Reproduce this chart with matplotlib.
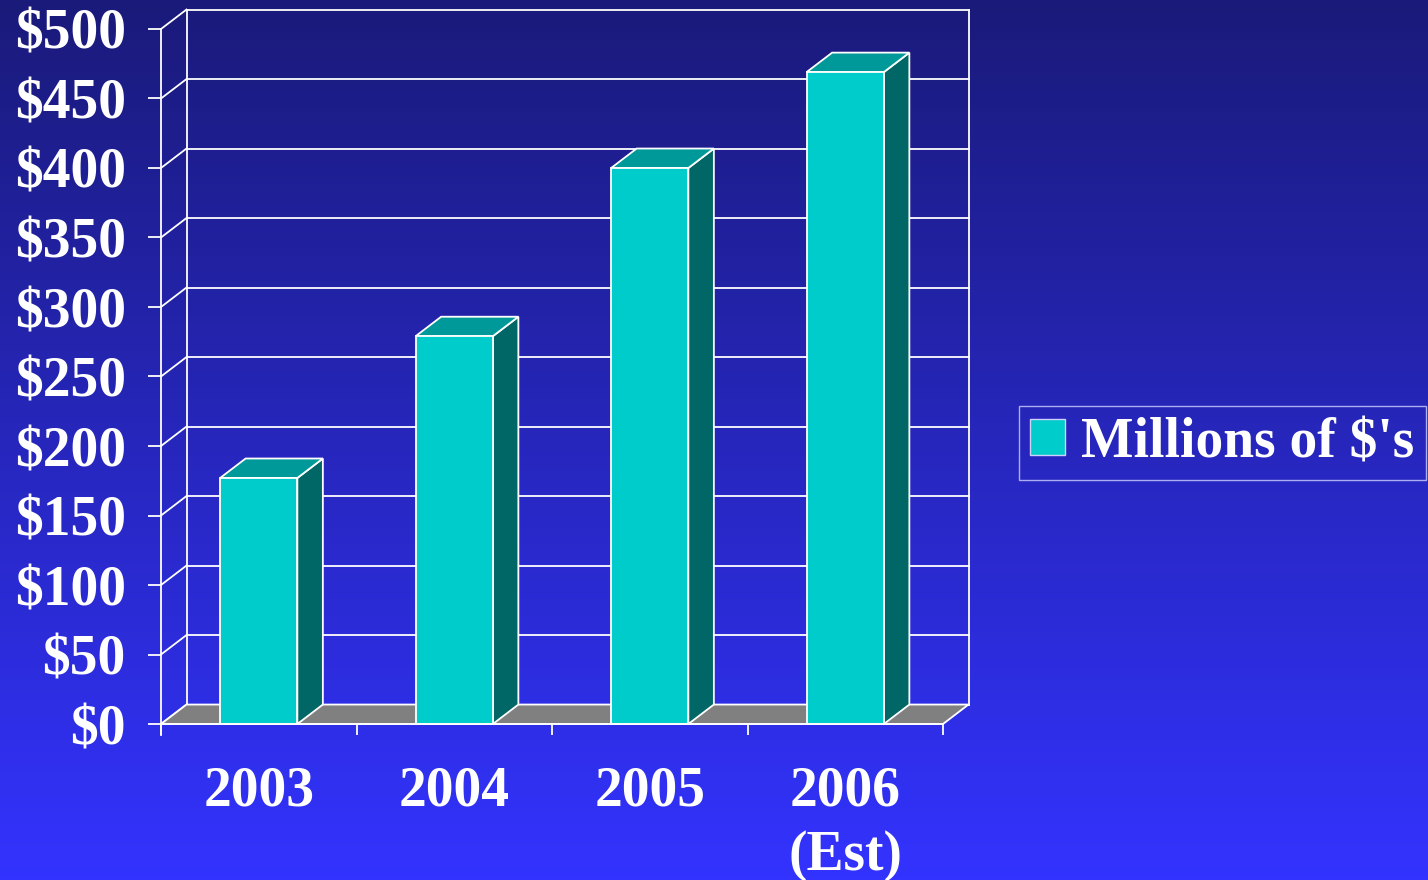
import numpy as np
import matplotlib
matplotlib.use('Agg')
import matplotlib.pyplot as plt
from matplotlib.patches import Polygon, Patch

# data
years = ['2003', '2004', '2005', '2006\n(Est)']
values = [177, 279, 400, 469]
y_ticks = [0, 50, 100, 150, 200, 250, 300, 350, 400, 450, 500]
y_labels = ['$' + str(v) for v in y_ticks]
legend_label = "Millions of $'s"

front_col = '#00cccc'
top_col = '#009999'
side_col = '#006666'
floor_col = '#808080'
line_col = 'white'

plt.rcParams['font.family'] = ['Liberation Serif', 'DejaVu Serif']
plt.rcParams['font.weight'] = 'bold'

fig = plt.figure(figsize=(14.28, 8.8), dpi=100)

# gradient background
bg = fig.add_axes([0, 0, 1, 1], zorder=-10)
top_rgb = np.array([26, 26, 122]) / 255
bot_rgb = np.array([51, 51, 255]) / 255
t = np.linspace(0, 1, 256)[:, None]
grad = top_rgb * (1 - t) + bot_rgb * t
bg.imshow(grad[:, None, :], aspect='auto', extent=[0, 1, 0, 1])
bg.axis('off')

# front plane of the 3d box
W, H = 1428, 880
ax = fig.add_axes([161 / W, 1 - 724 / H, (943 - 161) / W, (724 - 29) / H])
ax.patch.set_alpha(0)
ax.set_xlim(-0.5, 3.5)
ax.set_ylim(0, 500)

dx = 25.5 / 195.5   # depth offset in category units
dy = 14.0           # depth offset in value units
lw = 1.3
n = len(years)
x0, x1 = -0.5, n - 0.5

# back wall and gridlines
for v in y_ticks:
    ax.plot([x0 + dx, x1 + dx], [v + dy, v + dy], color=line_col, lw=lw, clip_on=False, zorder=1)
    ax.plot([x0, x0 + dx], [v, v + dy], color=line_col, lw=lw, clip_on=False, zorder=1)
ax.plot([x0 + dx, x0 + dx], [dy, 500 + dy], color=line_col, lw=lw, clip_on=False, zorder=1)
ax.plot([x1 + dx, x1 + dx], [dy, 500 + dy], color=line_col, lw=lw, clip_on=False, zorder=1)

# floor
floor = Polygon([[x0, 0], [x1, 0], [x1 + dx, dy], [x0 + dx, dy]], closed=True,
                facecolor=floor_col, edgecolor=line_col, lw=lw, clip_on=False, zorder=2)
ax.add_patch(floor)

# bars
bw = 0.395
for i, v in enumerate(values):
    l, r = i - bw / 2, i + bw / 2
    side = Polygon([[r, 0], [r + dx, dy], [r + dx, v + dy], [r, v]], closed=True,
                   facecolor=side_col, edgecolor=line_col, lw=lw, clip_on=False, zorder=3)
    top = Polygon([[l, v], [r, v], [r + dx, v + dy], [l + dx, v + dy]], closed=True,
                  facecolor=top_col, edgecolor=line_col, lw=lw, clip_on=False, zorder=3)
    ax.add_patch(side)
    ax.add_patch(top)
    ax.bar(i, v, width=bw, color=front_col, edgecolor=line_col, lw=lw, zorder=4, clip_on=False)

# axes styling
for s in ['top', 'right']:
    ax.spines[s].set_visible(False)
ax.spines['left'].set_color(line_col)
ax.spines['bottom'].set_color(line_col)
ax.spines['left'].set_linewidth(lw)
ax.spines['bottom'].set_linewidth(lw)
ax.spines['left'].set_zorder(5)
ax.spines['bottom'].set_zorder(5)
ax.spines['left'].set_bounds(-8, 500)

ax.set_yticks(y_ticks)
ax.set_yticklabels(y_labels)
ax.tick_params(axis='y', length=9.4, width=lw, color=line_col, pad=16,
               labelsize=40, labelcolor='white')

ax.set_xticks(range(n))
ax.set_xticklabels(years, linespacing=1.3)
ax.set_xticks([x0 + k for k in range(n + 1)], minor=True)
ax.tick_params(axis='x', which='major', length=0, pad=30, labelsize=40, labelcolor='white')
ax.tick_params(axis='x', which='minor', length=8, width=lw, color=line_col)

# legend
handle = Patch(facecolor=front_col, edgecolor='#d0d0ff', lw=1)
leg = fig.legend([handle], [legend_label], loc='center left',
                 bbox_to_anchor=(1019 / W, 1 - 443 / H), fontsize=40,
                 frameon=True, fancybox=False, handlelength=0.62, handleheight=0.62,
                 handletextpad=0.3, borderpad=0.2, borderaxespad=0)
leg.get_frame().set_facecolor('none')
leg.get_frame().set_edgecolor('#d0d0ff')
leg.get_frame().set_linewidth(1)
for txt in leg.get_texts():
    txt.set_color('white')

fig.savefig('out.png', dpi=100)
